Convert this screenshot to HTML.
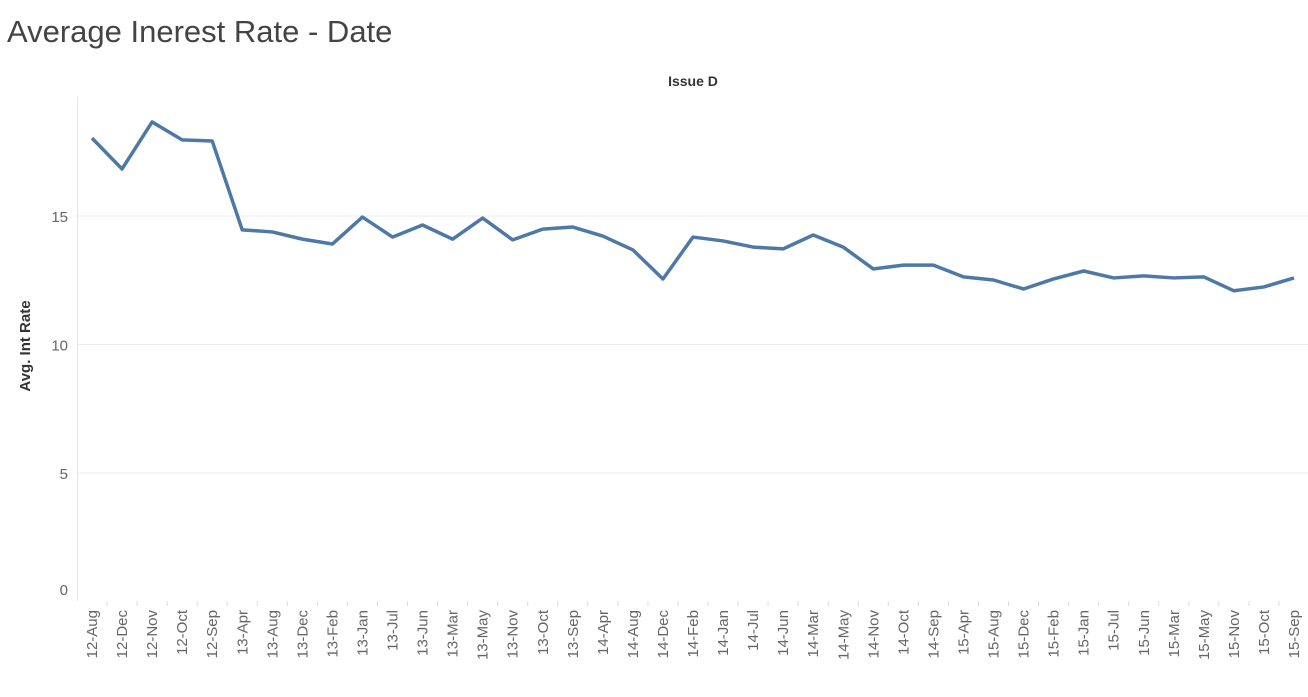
<!DOCTYPE html>
<html><head><meta charset="utf-8"><style>
body{margin:0;background:#fff;width:1308px;height:692px;overflow:hidden;font-family:"Liberation Sans",sans-serif}
</style></head><body>
<svg width="1308" height="692" xmlns="http://www.w3.org/2000/svg">
<text x="7" y="42" font-size="31" fill="#444" font-weight="300">Average Inerest Rate - Date</text>
<text x="693" y="86" font-size="14" fill="#333" font-weight="bold" text-anchor="middle">Issue D</text>
<text transform="translate(30,346) rotate(-90)" font-size="15" font-weight="bold" fill="#333" text-anchor="middle">Avg. Int Rate</text>
<g id="grid"></g><g id="yt"></g><g id="xt"></g>
<line x1="77.5" y1="97" x2="77.5" y2="601" stroke="#e6e6e6"/>
<path id="line" fill="none" stroke="#4e79a7" stroke-width="3.5" stroke-linejoin="round"/>
</svg>
<script>
const categories=["12-Aug","12-Dec","12-Nov","12-Oct","12-Sep","13-Apr","13-Aug","13-Dec","13-Feb","13-Jan","13-Jul","13-Jun","13-Mar","13-May","13-Nov","13-Oct","13-Sep","14-Apr","14-Aug","14-Dec","14-Feb","14-Jan","14-Jul","14-Jun","14-Mar","14-May","14-Nov","14-Oct","14-Sep","15-Apr","15-Aug","15-Dec","15-Feb","15-Jan","15-Jul","15-Jun","15-Mar","15-May","15-Nov","15-Oct","15-Sep"];
const values=[18.03,16.83,18.66,17.96,17.92,14.46,14.38,14.1,13.91,14.96,14.18,14.65,14.1,14.92,14.07,14.49,14.57,14.22,13.68,12.55,14.18,14.03,13.79,13.72,14.26,13.79,12.94,13.09,13.09,12.63,12.51,12.16,12.55,12.86,12.59,12.67,12.59,12.63,12.09,12.24,12.59];
const yTicks=[0,5,10,15];
const NS="http://www.w3.org/2000/svg";
const x=i=>92+i*(1294-92)/(categories.length-1);
const y=v=>601.5-v*25.7;
const grid=document.getElementById('grid'),yt=document.getElementById('yt'),xt=document.getElementById('xt');
yTicks.forEach(t=>{
 if(t>0){const l=document.createElementNS(NS,'line');
 l.setAttribute('x1',78);l.setAttribute('x2',1308);l.setAttribute('y1',y(t));l.setAttribute('y2',y(t));l.setAttribute('stroke','#ececec');
 
 
 grid.appendChild(l);}
 const tx=document.createElementNS(NS,'text');
 tx.setAttribute('x',68);tx.setAttribute('y',t===0?595:y(t)+6);tx.setAttribute('text-anchor','end');tx.setAttribute('font-size','15');tx.setAttribute('fill','#666');
 tx.textContent=t;
 
 
 yt.appendChild(tx);
});
categories.forEach((c,i)=>{
 const l=document.createElementNS(NS,'line');
 l.setAttribute('x1',x(i)+15);l.setAttribute('x2',x(i)+15);l.setAttribute('y1',601);l.setAttribute('y2',606);l.setAttribute('stroke','#ddd');
 
 
 xt.appendChild(l);
 const tx=document.createElementNS(NS,'text');
 tx.setAttribute('transform',`translate(${x(i)+5},610) rotate(-90)`);tx.setAttribute('text-anchor','end');tx.setAttribute('font-size','15');tx.setAttribute('fill','#666');
 tx.textContent=c;
 
 
 xt.appendChild(tx);
});
document.getElementById('line').setAttribute('d',values.map((v,i)=>(i?'L':'M')+x(i)+','+y(v)).join(''));
</script>
</body></html>
